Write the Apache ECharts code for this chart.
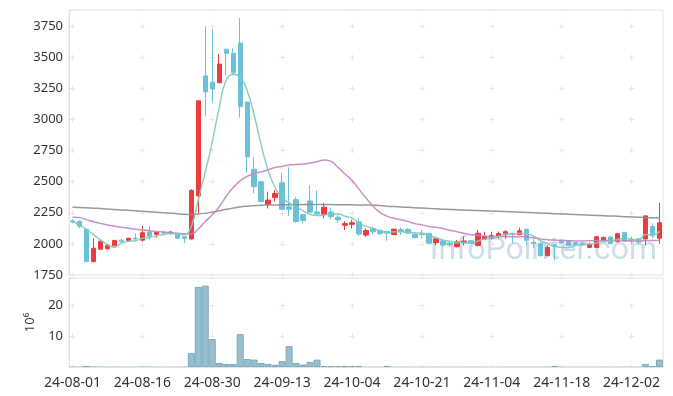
<!DOCTYPE html>
<html><head><meta charset="utf-8">
<script src="https://cdn.jsdelivr.net/npm/echarts@6/dist/echarts.min.js"></script>
<style>html,body{margin:0;padding:0;background:#fff}#c{width:673px;height:396px}</style>
</head><body><div id="c"></div>
<script>
var dates = ['24-08-01','24-08-02','24-08-05','24-08-06','24-08-07','24-08-08','24-08-09','24-08-12','24-08-13','24-08-14',
'24-08-16','24-08-19','24-08-20','24-08-21','24-08-22','24-08-23','24-08-26','24-08-27','24-08-28','24-08-29',
'24-08-30','24-09-02','24-09-03','24-09-04','24-09-05','24-09-06','24-09-09','24-09-10','24-09-11','24-09-12',
'24-09-13','24-09-19','24-09-20','24-09-23','24-09-24','24-09-25','24-09-26','24-09-27','24-09-30','24-10-02',
'24-10-04','24-10-07','24-10-08','24-10-10','24-10-11','24-10-14','24-10-15','24-10-16','24-10-17','24-10-18',
'24-10-21','24-10-22','24-10-23','24-10-24','24-10-25','24-10-28','24-10-29','24-10-30','24-10-31','24-11-01',
'24-11-04','24-11-05','24-11-06','24-11-07','24-11-08','24-11-11','24-11-12','24-11-13','24-11-14','24-11-15',
'24-11-18','24-11-19','24-11-20','24-11-21','24-11-22','24-11-25','24-11-26','24-11-27','24-11-28','24-11-29',
'24-12-02','24-12-03','24-12-04','24-12-05','24-12-06'];

var openP  = [2185,2180,2118,1857,1957,1960,1985,2030,2028,2045,2030,2095,2077,2093,2083,2080,2058,2040,2385,3350,
3300,3295,3565,3532,3615,3140,2600,2500,2318,2372,2490,2298,2356,2235,2345,2257,2238,2257,2215,2150,
2157,2177,2071,2123,2108,2100,2075,2115,2117,2075,2085,2085,2010,2024,2003,1977,2010,2025,1988,2037,
2043,2060,2073,2085,2074,2118,2013,2000,1905,1992,2030,2025,2010,2005,1972,1972,2026,2055,2018,2090,
2038,2042,2040,2140,2045];
var closeP = [2178,2142,1857,1965,2022,1990,2028,2020,2045,2040,2090,2062,2093,2088,2095,2045,2045,2430,3150,3222,
3245,3445,3530,3375,3105,2700,2460,2340,2352,2405,2278,2278,2180,2188,2255,2240,2295,2220,2193,2163,
2170,2079,2108,2097,2082,2086,2118,2101,2086,2051,2075,2005,2040,1991,1992,2016,2023,2004,2085,2060,
2067,2083,2098,2076,2105,2030,2003,1905,1972,1983,2007,1985,1996,1996,1999,2057,2052,2002,2082,2022,
2030,2017,2225,2065,2170];
var lowP   = [2165,2125,1857,1855,1955,1955,1982,2010,2020,2025,2020,2035,2050,2078,2075,2042,2005,2035,2245,3025,
3135,3295,3355,3355,3015,2572,2405,2338,2285,2340,2275,2225,2170,2165,2250,2235,2205,2195,2168,2112,
2125,2063,2056,2078,2075,2025,2070,2072,2080,2045,2045,1995,1990,1985,1977,1972,1988,1998,1978,2030,
2035,2045,2040,2005,2070,1990,1965,1900,1900,1870,2000,1980,1988,1985,1970,1968,2020,1998,2012,2018,
1999,1995,1988,2045,2000];
var highP  = [2200,2190,2120,2045,2025,1995,2032,2040,2050,2085,2145,2140,2095,2105,2105,2082,2060,2440,3150,3750,
3725,3525,3565,3572,3815,3140,2695,2502,2420,2432,2572,2615,2380,2238,2470,2430,2330,2290,2233,2182,
2193,2205,2125,2140,2112,2103,2122,2131,2125,2090,2110,2088,2050,2030,2018,2030,2060,2028,2112,2098,
2098,2100,2112,2090,2130,2120,2045,2010,1990,2000,2035,2030,2015,2015,2010,2062,2058,2060,2090,2095,
2058,2045,2228,2165,2330];

var ma5 = [2182,2150,2115,2075,2033,1995,1972,2005,2021,2025,2045,2051,2066,2075,2086,2077,2073,2141,2353,2578,
2818,3098,3318,3363,3340,3231,3034,2796,2591,2451,2367,2331,2299,2266,2236,2228,2232,2240,2241,2222,
2208,2165,2143,2123,2107,2090,2098,2097,2095,2088,2086,2064,2051,2032,2021,2009,2012,2005,2024,2038,
2048,2060,2079,2077,2086,2078,2062,2024,2003,1979,1974,1970,1989,1993,1997,2007,2020,2021,2038,2043,
2038,2031,2075,2072,2101];
var ma20 = [2215,2212,2195,2178,2165,2152,2142,2133,2125,2118,2112,2106,2100,2095,2090,2086,2082,2080,2120,2180,
2234,2299,2383,2453,2507,2543,2564,2580,2596,2614,2623,2634,2638,2643,2651,2661,2674,2663,2615,2562,
2509,2440,2369,2305,2254,2223,2206,2194,2181,2163,2153,2140,2133,2123,2110,2098,2085,2074,2069,2063,
2058,2059,2058,2057,2058,2055,2050,2040,2034,2031,2027,2026,2024,2024,2025,2027,2028,2028,2028,2026,
2024,2021,2027,2027,2030];
var ma120 = [2295,2293,2290,2287,2284,2280,2277,2273,2270,2266,2262,2259,2255,2251,2247,2243,2238,2236,2240,2247,
2256,2266,2278,2288,2297,2303,2307,2310,2312,2313,2314,2315,2315,2316,2316,2316,2316,2316,2315,2315,
2314,2313,2312,2311,2309,2303,2300,2297,2294,2291,2288,2285,2282,2279,2277,2274,2272,2270,2268,2266,
2264,2262,2260,2258,2255,2253,2250,2248,2246,2243,2241,2238,2236,2234,2231,2229,2226,2224,2222,2219,
2217,2215,2212,2210,2208];
var volume = [0.18,0.15,0.35,0.22,0.16,0.12,0.14,0.1,0.12,0.11,0.2,0.15,0.1,0.09,0.1,0.12,0.13,4.6,26.1,26.5,
9.1,1.3,1.0,1.0,10.7,2.6,2.4,1.3,1.0,0.7,1.9,6.8,1.3,0.8,1.7,2.4,0.35,0.3,0.3,0.25,
0.3,0.35,0.12,0.1,0.1,0.35,0.1,0.1,0.09,0.08,0.1,0.09,0.1,0.08,0.07,0.08,0.1,0.09,0.1,0.08,
0.07,0.08,0.09,0.1,0.08,0.1,0.09,0.1,0.12,0.35,0.1,0.08,0.07,0.08,0.09,0.08,0.1,0.09,0.1,0.12,
0.1,0.12,1.0,0.3,2.4];
var priceTicks = {min:1750, max:3880, step:250};
var volTicks = {min:0, max:29, step:10};

var candles = openP.map(function(o,i){ return [o, closeP[i], lowP[i], highP[i]]; });
var volData = volume.map(function(v){
  return v >= 0.25 ? {value:v} : {value:v, itemStyle:{borderWidth:0}};
});
var UP = '#ec3b3f', DOWN = '#6bc1d8', FONT = 'Noto Sans';
var gridCross = '#e6e6e6';

var chart = echarts.init(document.getElementById('c'), null, {renderer:'canvas'});
chart.setOption({
  animation:false,
  backgroundColor:'#fff',
  textStyle:{fontFamily:FONT},
  graphic:[{
    type:'text', right:16, top:235, z:0, silent:true,
    style:{text:'InfoPointer.com', font:'32px Roboto', fill:'rgba(155,190,210,0.5)'}
  }],
  grid:[
    {left:69, right:10, top:10, height:265, show:true, borderColor:'#e3e3e3', borderWidth:1, z:1},
    {left:69, right:10, top:278, height:89, show:true, borderColor:'#e3e3e3', borderWidth:1, z:1}
  ],
  xAxis:[
    {type:'category', gridIndex:0, data:dates, boundaryGap:true,
     axisLine:{show:false}, axisTick:{show:false}, axisLabel:{show:false},
     splitLine:{show:true, interval:9, alignWithLabel:true, lineStyle:{color:gridCross, width:1, type:[5,26.10], dashOffset:17.43}}},
    {type:'category', gridIndex:1, data:dates, boundaryGap:true,
     axisLine:{show:true, lineStyle:{color:'#e3e3e3'}}, axisTick:{show:false},
     axisLabel:{interval:9, fontSize:14, color:'#333', margin:9, fontFamily:FONT},
     splitLine:{show:true, interval:9, alignWithLabel:true, lineStyle:{color:gridCross, width:1, type:[5,25.69], dashOffset:5.57}}}
  ],
  yAxis:[
    {type:'value', gridIndex:0, min:priceTicks.min, max:priceTicks.max, interval:priceTicks.step, scale:true,
     axisLine:{show:true, lineStyle:{color:'#e3e3e3'}}, axisTick:{show:false},
     axisLabel:{fontSize:13, color:'#333', margin:6, showMaxLabel:false, fontFamily:FONT,
       formatter:function(v){ return String(v); }},
     splitLine:{show:true, lineStyle:{color:gridCross, width:1, type:[5,64.88], dashOffset:68.89}}},
    {type:'value', gridIndex:1, min:volTicks.min, max:volTicks.max, interval:volTicks.step,
     axisLine:{show:true, lineStyle:{color:'#e3e3e3'}}, axisTick:{show:false},
     axisLabel:{fontSize:13, color:'#333', margin:6, showMinLabel:false, showMaxLabel:false, fontFamily:FONT,
       formatter:function(v){ return String(v); }},
     name:'10\u2076', nameLocation:'middle', nameRotate:90, nameGap:31,
     nameTextStyle:{fontSize:13, color:'#333', fontFamily:FONT},
     splitLine:{show:true, lineStyle:{color:gridCross, width:1, type:[5,64.88], dashOffset:68.89}}}
  ],
  series:[
    {type:'candlestick', xAxisIndex:0, yAxisIndex:0, data:candles, barWidth:'70%', z:2,
     itemStyle:{color:UP, color0:DOWN, borderColor:UP, borderColor0:DOWN, borderWidth:1}},
    {type:'line', xAxisIndex:0, yAxisIndex:0, data:ma120, smooth:true, showSymbol:false, z:3,
     lineStyle:{color:'#8e8e8e', width:1.5, opacity:0.9}},
    {type:'line', xAxisIndex:0, yAxisIndex:0, data:ma20, smooth:true, showSymbol:false, z:3,
     lineStyle:{color:'#c684c2', width:1.5, opacity:0.9}},
    {type:'line', xAxisIndex:0, yAxisIndex:0, data:ma5, smooth:true, showSymbol:false, z:3,
     lineStyle:{color:'#7ecabd', width:1.5, opacity:0.9}},
    {type:'bar', xAxisIndex:1, yAxisIndex:1, data:volData, barCategoryGap:'0%', z:2,
     itemStyle:{color:'#98bfd0', borderColor:'#7ea9be', borderWidth:1}}
  ]
});
</script></body></html>
